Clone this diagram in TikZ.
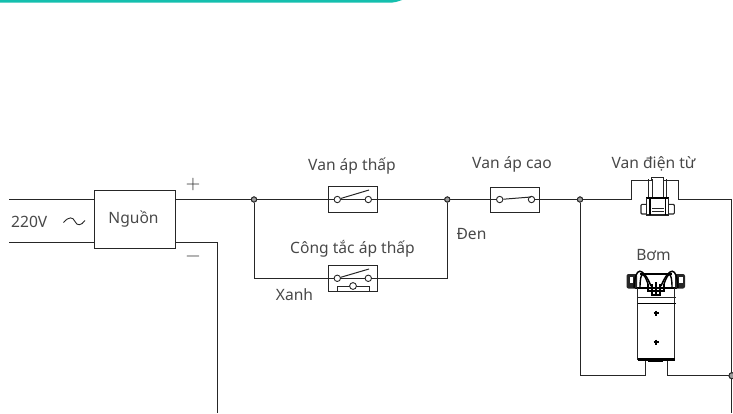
\documentclass[tikz,border=0pt]{standalone}
\usepackage{fontspec}
\setmainfont{Noto Sans}
\newfontfamily\lmfont{Latin Modern Roman}
\definecolor{wire}{HTML}{262626}
\definecolor{txt}{HTML}{484848}
\definecolor{teal}{HTML}{14BFAE}
\tikzset{
  wireline/.style={draw=wire,line width=1pt,line join=miter},
  lab/.style={text=txt,font=\fontsize{15.6}{18}\selectfont,inner sep=0pt,anchor=base},
  polar/.style={text=wire,font=\lmfont\fontsize{20}{20}\selectfont,inner sep=0pt,anchor=center},
  swbox/.style={draw=wire,line width=1pt,minimum width=48.7pt,minimum height=25.6pt,inner sep=0pt,fill=white},
  contact/.style={circle,draw=wire,line width=0.9pt,minimum size=6.4pt,inner sep=0pt,fill=white},
  junction/.style={circle,draw=wire,line width=0.9pt,minimum size=5.2pt,inner sep=0pt,fill=wire!45},
  symb/.style={draw=wire,line width=0.8pt},
  thick symb/.style={draw=black,line width=1.6pt}
}
\begin{document}
\begin{tikzpicture}[x=1pt,y=-1pt]
\useasboundingbox (0,0) rectangle (733,413);
\fill[teal] (0,0) -- (402,0) .. controls (398,1.6) and (394,2.7) .. (389,2.7) -- (0,2.7) -- cycle;

% anchors
\coordinate (acTop) at (9,199.5);
\coordinate (acBot) at (9,242.7);
\coordinate (minusEnd) at (217.5,413);
\coordinate (minusTurn) at (217.5,242.7);
\node[draw=wire,line width=1pt,minimum width=81.5pt,minimum height=57.7pt,inner sep=0pt] (psu) at (135.2,219.8) {};
\node[lab] (psulab) at (133.5,223.5) {Nguồn};
\node[lab,anchor=base west] (vlab) at (11,227.5) {220V};
\node[polar] (plus) at (193,184.5) {+};
\node[polar] (minus) at (193,259) {−};
\coordinate (tildeL) at (63.5,222.5);
\coordinate (tildeR) at (85,220.5);
\draw[wire,line width=0.9pt] (tildeL) .. controls (69,216) and (73,217) .. (75,221.5) .. controls (77,226) and (81,226) .. (tildeR);

\node[junction] (j1) at (254,199.5) {};
\node[junction] (j2) at (447.3,199.5) {};
\node[junction] (j3) at (580,199.5) {};
\node[junction,minimum size=6pt] (j4) at (732,375.7) {};

\draw[wireline] (acTop) -- (94.5,199.5);
\draw[wireline] (acBot) -- (94.5,242.7);
\draw[wireline] (176,199.5) -- (j1) -- (j2) -- (j3) -- (631,199.5) -- (631,180) -- (648,180);
\draw[wireline] (176,242.7) -- (minusTurn) -- (minusEnd);
\draw[wireline] (j1) -- (254,278.3) -- (447.3,278.3) -- (j2);
\draw[wireline] (678,180) -- (678,199.5) -- (731.8,199.5) -- (731.8,413);
\draw[wireline] (j3) -- (580,375.7) -- (645,375.7) -- (645,360);
\draw[wireline] (667.7,360) -- (667.7,375.7) -- (j4);
\node[junction] at (j1) {};\node[junction] at (j2) {};\node[junction] at (j3) {};\node[junction,minimum size=6pt] at (j4) {};

% switch 1
\node[swbox] (s1) at (352.7,199.5) {};
\draw[wireline] (s1.west) -- (s1.east);
\node[contact] (s1a) at (337.3,199.5) {};
\node[contact] (s1b) at (368.3,199.5) {};
\draw[wireline] (s1a) -- (369,190);
% switch 2
\node[swbox] (s2) at (352.7,278.3) {};
\draw[wireline] (s2.west) -- (s2.east);
\node[contact] (s2a) at (337.3,278.3) {};
\node[contact] (s2b) at (368.3,278.3) {};
\draw[wireline] (s2a) -- (369,269);
\draw[wireline] (337.3,291) -- (337.3,286) -- (369,286) -- (369,291);
\node[contact,minimum size=6.8pt] (s2c) at (353,286) {};
% switch 3
\node[swbox] (s3) at (514.8,200) {};
\coordinate (s3ax) at (499.7,199.5);
\coordinate (s3bx) at (531.5,199.5);
\draw[wireline] (s3.west |- s3ax) -- (s3ax);
\draw[wireline] (s3bx) -- (s3.east |- s3bx);
\node[contact] (s3a) at (s3ax) {};
\node[contact] (s3b) at (s3bx) {};
\draw[wireline] (s3a) -- (531,197);

% labels
\node[lab] (l1) at (352,170) {Van áp thấp};
\node[lab] (l2) at (512,168.5) {Van áp cao};
\node[lab] (l3) at (653.5,168.5) {Van điện từ};
\node[lab] (l4) at (352.5,253.5) {Công tắc áp thấp};
\node[lab] (l5) at (471.5,239.5) {Đen};
\node[lab] (l6) at (294.5,300.5) {Xanh};
\node[lab] (l7) at (653.5,260) {Bơm};

% solenoid valve
\fill[white] (631.5,199) rectangle (677.5,181);
\draw[wireline] (631,199.5) -- (631,180);
\draw[wireline] (678,180) -- (678,199.5);
\draw[symb] (651.7,180) -- (651.7,177) -- (663.3,177) -- (663.3,180);
\draw[symb] (648,180) -- (652,180) (663,180) -- (678,180);
\draw[symb,line width=1.2pt] (648.3,179) -- (648.3,198) (652.7,179) -- (652.7,198) (663.3,179) -- (663.3,198) (666.7,179) -- (666.7,198);
\draw[thick symb,line width=2pt] (646,197.7) -- (669,197.7);
\draw[symb,line width=1.1pt] (646.5,197.7) -- (646.5,215) -- (668.5,215) -- (668.5,197.7);
\draw[thick symb] (650,197.7) -- (650,215) (665.5,197.7) -- (665.5,215);
\draw[symb,line width=1pt] (652,208) -- (664,208) (652,211) -- (664,211);
\draw[symb,line width=1.1pt,rounded corners=1pt] (646.5,204.3) -- (641,204.3) -- (641,214) -- (646.5,214);
\draw[symb,line width=1.1pt,rounded corners=1pt] (668.5,204.3) -- (674.3,204.3) -- (674.3,214) -- (668.5,214);

% pump
\draw[symb,line width=0.9pt] (637.5,291) -- (637.5,360);
\draw[symb,line width=1.2pt] (674.5,291) -- (674.5,360);
\draw[symb] (637.5,297.3) -- (676,297.3);
\draw[thick symb,line width=1pt] (637.5,303.3) -- (676,303.3);
\draw[thick symb,line width=2.4pt] (637.5,359.3) -- (674.5,359.3);
\draw[thick symb,line width=1.4pt] (648,361) -- (662.7,361);
\draw[symb,line width=1.1pt,black] (653.5,313) -- (658.5,313) (656,310.5) -- (656,315.5);
\draw[symb,line width=1.1pt,black] (653.5,342) -- (658.5,342) (656,339.5) -- (656,344.5);
% pump head
\draw[thick symb,line width=1.1pt] (635,288) -- (677,288);
\draw[thick symb,line width=1.1pt] (640,274) -- (672,274);
\draw[symb] (637.5,288) -- (637.5,295) (674.5,288) -- (674.5,295);
\fill[black!85,rounded corners=2pt] (626.5,274) rectangle (637,288.5);
\fill[black!85,rounded corners=2pt] (675,274) rectangle (685,288.5);
\fill[white] (629.5,277) rectangle (633,283);
\fill[white] (679,277) rectangle (682.5,283);
\draw[black,line width=1.5pt] (634,288) .. controls (635,265) and (643,267) .. (651,286);
\draw[black,line width=1.4pt] (640,288) .. controls (640,270) and (644,272) .. (648,284);
\draw[black,line width=1.5pt] (678,288) .. controls (677,265) and (669,267) .. (661,286);
\draw[black,line width=1.4pt] (672,288) .. controls (672,270) and (668,272) .. (664,284);
\draw[black,line width=1.2pt] (648,284) -- (648,291) -- (664,291) -- (664,284) (652,284) -- (652,295) -- (660,295) -- (660,284) (656,282) -- (656,295);
\end{tikzpicture}
\end{document}
